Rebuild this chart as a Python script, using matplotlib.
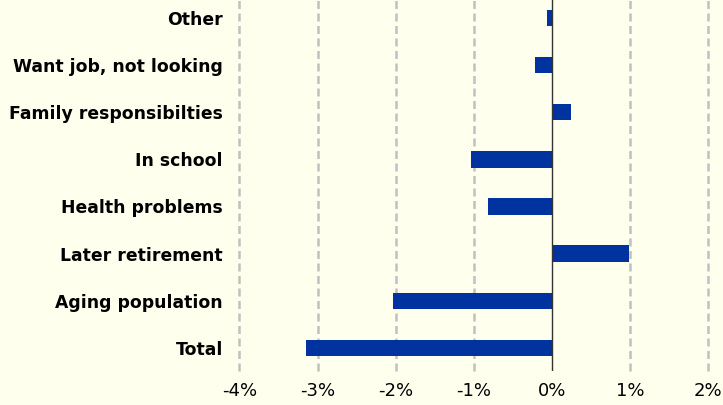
import matplotlib
matplotlib.use("Agg")
import matplotlib.pyplot as plt
from matplotlib.ticker import FuncFormatter

categories = ["Total", "Aging population", "Later retirement", "Health problems",
              "In school", "Family responsibilties", "Want job, not looking", "Other"]
values = [-3.15, -2.04, 0.99, -0.82, -1.03, 0.25, -0.21, -0.06]
xticks = [-4, -3, -2, -1, 0, 1, 2]

bg = "#FFFFEE"
fig = plt.figure(figsize=(7.23, 4.05), dpi=100, facecolor=bg)
ax = fig.add_axes([239.5 / 723, 1 - 371 / 405, (708 - 239.5) / 723, 371 / 405])
ax.set_facecolor(bg)

ypos = list(range(len(categories)))
ax.barh(ypos, values, height=0.35, color="#0033A0", zorder=3)

ax.set_xlim(-4, 2)
ax.set_ylim(-0.49, 7.38)
ax.set_xticks(xticks)
ax.xaxis.set_major_formatter(FuncFormatter(lambda v, p: f"{int(round(v))}%"))
ax.set_yticks(ypos)
ax.set_yticklabels(categories, fontweight="bold", fontsize=12.4)
ax.tick_params(axis="x", labelsize=13, length=0, pad=8)
ax.tick_params(axis="y", length=0, pad=12)

for xv in xticks:
    if xv != 0:
        ax.axvline(xv, linestyle=(0, (3.2, 1.8)), color="#C0C0C0", linewidth=1.8,
                   zorder=0, clip_on=False)
ax.axvline(0, color="#333333", linewidth=1.0, zorder=4)
for s in ax.spines.values():
    s.set_visible(False)

fig.savefig("out.png", dpi=100, facecolor=bg)
